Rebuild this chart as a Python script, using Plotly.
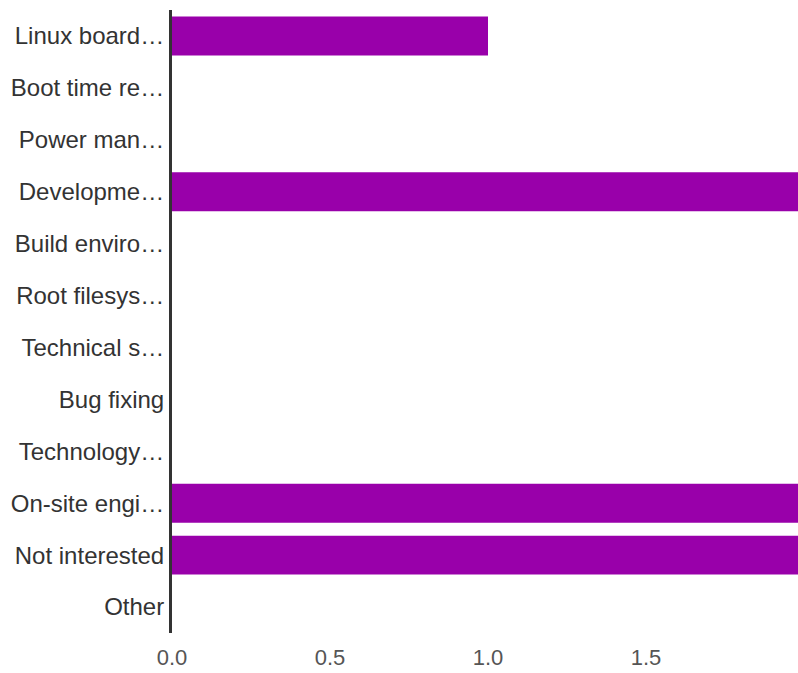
import plotly.graph_objects as go

categories = [
    "Linux board…", "Boot time re…", "Power man…", "Developme…",
    "Build enviro…", "Root filesys…", "Technical s…", "Bug fixing",
    "Technology…", "On-site engi…", "Not interested", "Other",
]
values = [1, 0, 0, 2, 0, 0, 0, 0, 0, 2, 2, 0]
tick_vals = [0.0, 0.5, 1.0, 1.5]
tick_text = ["0.0", "0.5", "1.0", "1.5"]

fig = go.Figure(go.Bar(
    y=categories, x=values, orientation="h",
    marker=dict(color="#9900aa", line=dict(width=0)),
    hoverinfo="skip",
))
fig.update_layout(
    width=798, height=673,
    margin=dict(l=172, r=0, t=10, b=40),
    paper_bgcolor="white", plot_bgcolor="white",
    font=dict(family="Liberation Sans", size=22, color="#333333"),
    bargap=0.25, showlegend=False,
)
fig.update_xaxes(
    range=[0, 1.981], tickvals=tick_vals, ticktext=tick_text,
    showgrid=False, zeroline=False, showline=False,
    tickfont=dict(family="Liberation Sans", color="#555555", size=22),
    ticks="", ticklabelstandoff=9,
)
fig.update_yaxes(
    autorange="reversed", showgrid=False, zeroline=False,
    showline=True, linecolor="#333333", linewidth=3, ticks="",
    tickfont=dict(family="Liberation Sans", color="#333333", size=24),
    ticklabelstandoff=0,
)
fig.write_html(
    "out.html",
    config={"displayModeBar": False},
    post_script="document.body.style.margin='0';document.body.style.overflow='hidden';",
)
